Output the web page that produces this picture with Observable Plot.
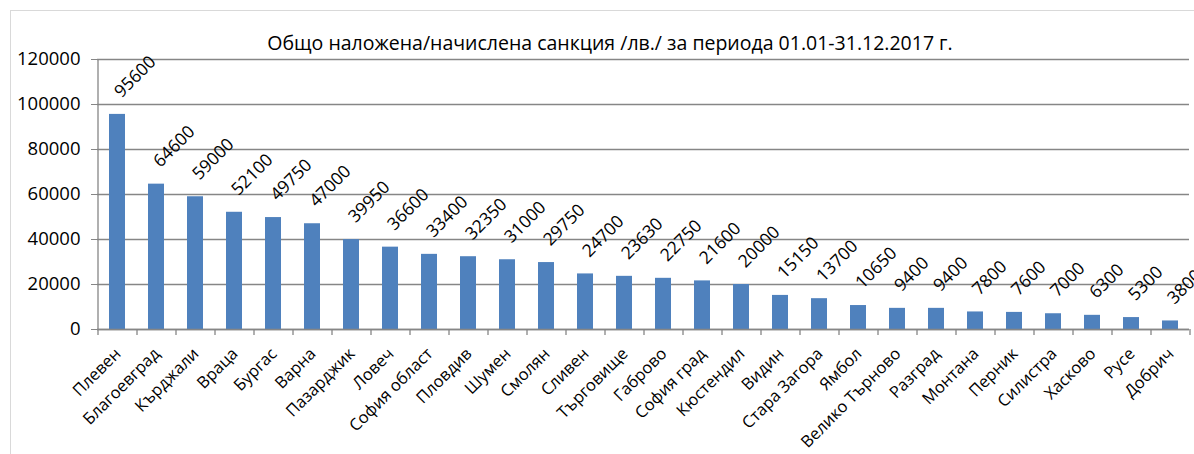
<!DOCTYPE html>
<html><head><meta charset="utf-8">
<script src="https://cdn.jsdelivr.net/npm/d3@7"></script>
<script src="https://cdn.jsdelivr.net/npm/@observablehq/plot@0.6"></script>
<style>
body{margin:0;background:#fff;font-family:"Open Sans",sans-serif;}
#wrap{position:relative;width:1194px;height:454px;overflow:hidden;}
#frame{position:absolute;left:10px;top:10px;width:1200px;height:460px;border:1px solid #d9d9d9;box-sizing:border-box;}
#title{position:absolute;left:13px;top:32px;width:1194px;text-align:center;font-size:19.5px;line-height:22px;color:#000;white-space:nowrap;}
#chart{position:absolute;left:0;top:55px;}
</style></head><body>
<div id="wrap"><div id="frame"></div><div id="title">Общо наложена/начислена санкция /лв./ за периода 01.01-31.12.2017 г.</div><div id="chart"></div></div>
<script>
const regions = ["Плевен","Благоевград","Кърджали","Враца","Бургас","Варна","Пазарджик","Ловеч","София област","Пловдив","Шумен","Смолян","Сливен","Търговище","Габрово","София град","Кюстендил","Видин","Стара Загора","Ямбол","Велико Търново","Разград","Монтана","Перник","Силистра","Хасково","Русе","Добрич"];
const sanctions = [95600,64600,59000,52100,49750,47000,39950,36600,33400,32350,31000,29750,24700,23630,22750,21600,20000,15150,13700,10650,9400,9400,7800,7600,7000,6300,5300,3800];
const yTicks = [0,20000,40000,60000,80000,100000,120000];

const data = regions.map((r,i)=>({region:r, value:sanctions[i]}));
const W=1194, H=399, mL=97, mR=5, mT=4, mB=125;
const half = (W-mL-mR)/regions.length/2;
const axisColor = "#868686";
const fsY = 18.5, fsV = 17.5, fsX = 16.5;

const plot = Plot.plot({
  width:W, height:H, marginLeft:mL, marginRight:mR, marginTop:mT, marginBottom:mB,
  style:{fontFamily:"'Open Sans', sans-serif", fontSize:fsY+"px", color:"#000", background:"transparent", overflow:"visible"},
  x:{domain:regions, paddingInner:0.6, paddingOuter:0.3, axis:null},
  y:{domain:[0,120000], axis:null},
  marks:[
    Plot.gridY(yTicks, {stroke:axisColor, strokeOpacity:1, strokeWidth:1.3}),
    Plot.axisY(yTicks, {tickSize:6, tickPadding:11, tickFormat:d3.format("d"), stroke:axisColor, fill:"#000", fontSize:fsY, label:null}),
    Plot.barY(data, {x:"region", y:"value", fill:"#4F81BD"}),
    Plot.ruleY([0], {stroke:axisColor, strokeWidth:1.3}),
    Plot.ruleX([regions[0]], {x:d=>d, y1:d=>0, y2:d=>120000, dx:-half, stroke:axisColor, strokeWidth:1.3}),
    Plot.ruleX(regions, {x:d=>d, y1:d=>0, y2:d=>0, dx:-half, insetTop:6, stroke:axisColor, strokeWidth:1.3}),
    Plot.ruleX([regions[regions.length-1]], {x:d=>d, y1:d=>0, y2:d=>0, dx:half, insetTop:6, stroke:axisColor, strokeWidth:1.3}),
    Plot.text(data, {x:"region", y:"value", text:d=>String(d.value), rotate:-45, textAnchor:"start", lineAnchor:"bottom", dx:4, dy:-16, fontSize:fsV, fill:"#000"}),
    Plot.text(data, {x:"region", y:d=>0, text:"region", rotate:-45, textAnchor:"end", lineAnchor:"top", dx:-4, dy:17, fontSize:fsX, fill:"#000"})
  ]
});
document.getElementById("chart").appendChild(plot);
</script>
</body></html>
